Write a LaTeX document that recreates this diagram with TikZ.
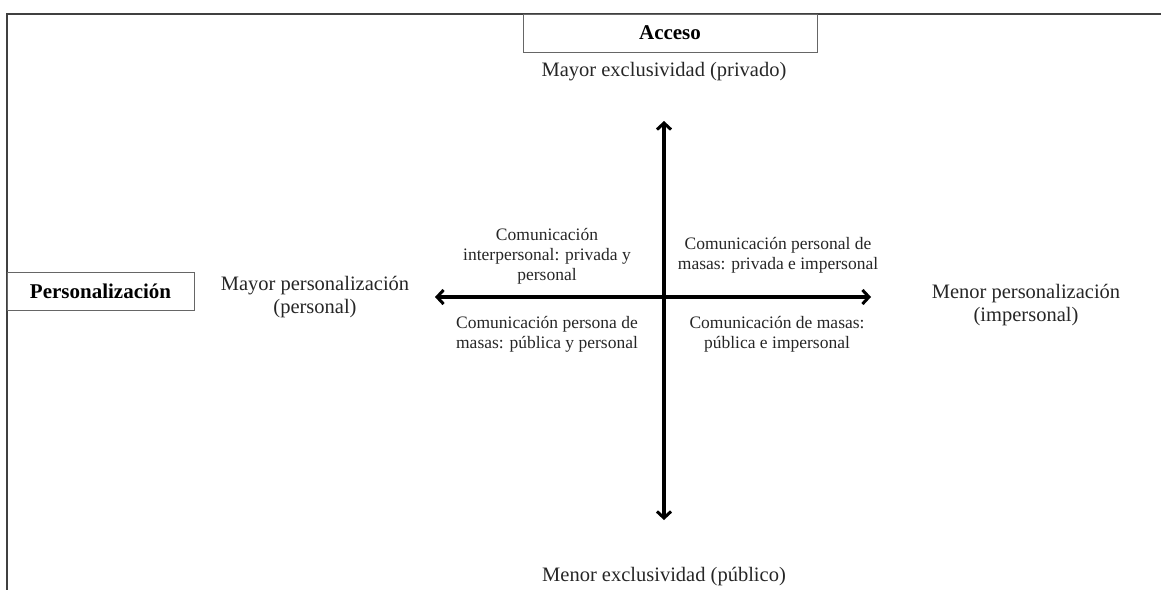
\documentclass[tikz,border=0pt]{standalone}
\usepackage{fontspec}
\setmainfont{Liberation Serif}
\usetikzlibrary{arrows.meta}
\tikzset{
  lbl/.style={inner sep=0pt, align=center, text=black!85, font=\fontsize{20.5}{23}\selectfont},
  qlbl/.style={inner sep=0pt, align=center, text=black!85, font=\fontsize{17.5}{20}\selectfont},
  titlebox/.style={draw=black!60, line width=1pt, inner sep=0pt, font=\fontsize{21}{23}\selectfont\bfseries},
  axis/.style={line width=3.2pt, {Straight Barb[length=6.5pt,width=14pt,line width=3pt]}-{Straight Barb[length=6.5pt,width=14pt,line width=3pt]}},
  frame/.style={line width=1.4pt, draw=black!75}
}
\begin{document}
\begin{tikzpicture}[x=1pt,y=-1pt]
\useasboundingbox (0,0) rectangle (1161,590);
% frame lines
\coordinate (tl) at (7,14);
\coordinate (tr) at (1161,14);
\coordinate (bl) at (7,590);
\draw[frame] (tr) -- (tl) -- (bl);
% title boxes
\node[titlebox, minimum width=294pt, minimum height=38pt] (acceso) at (670,33) {Acceso};
\node[titlebox, minimum width=187pt, minimum height=38pt] (pers) at (100.5,291) {Personalización};
% axis
\coordinate (top) at (664,121);
\coordinate (bot) at (664,520);
\coordinate (lft) at (435,297);
\coordinate (rgt) at (871,297);
\draw[axis] (top) -- (bot);
\draw[axis] (lft) -- (rgt);
% axis labels
\node[lbl] (mayexc) at (664,72) {Mayor exclusividad (privado)};
\node[lbl] (menexc) at (664,577) {Menor exclusividad (público)};
\node[lbl] (maypers) at (315,297) {Mayor personalización\\(personal)};
\node[lbl] (menpers) at (1026,305) {Menor personalización\\(impersonal)};
% quadrants
\node[qlbl] (q1) at (547,256) {Comunicación\\interpersonal: privada y\\personal};
\node[qlbl] (q2) at (778,255) {Comunicación personal de\\masas: privada e impersonal};
\node[qlbl] (q3) at (547,334) {Comunicación persona de\\masas: pública y personal};
\node[qlbl] (q4) at (777,334) {Comunicación de masas:\\pública e impersonal};
\end{tikzpicture}
\end{document}
